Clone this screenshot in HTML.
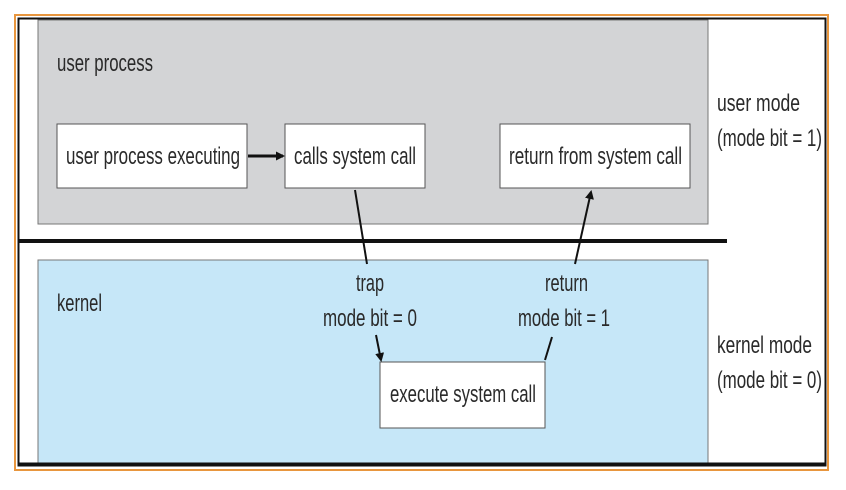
<!DOCTYPE html>
<html><head><meta charset="utf-8"><style>
html,body{margin:0;padding:0;background:#fff;width:846px;height:490px;overflow:hidden}
svg text{font-family:"Liberation Sans",sans-serif;font-size:24px;fill:#2a2a2a}
</style></head><body>
<svg width="846" height="490" viewBox="0 0 846 490" xmlns="http://www.w3.org/2000/svg">
<defs><marker id="a" markerWidth="9" markerHeight="9" refX="7" refY="4.5" orient="auto" markerUnits="userSpaceOnUse"><path d="M0,0 L9,4.5 L0,9 z" fill="#111"/></marker></defs>
<rect x="15" y="15" width="813" height="455" fill="none" stroke="#e8963e" stroke-width="2"/>
<rect x="18.5" y="18.5" width="807" height="447" fill="#fff" stroke="#111" stroke-width="2"/>
<rect x="38" y="20" width="670" height="204" fill="#d3d4d6" stroke="#777" stroke-width="1"/>
<rect x="38" y="260" width="670" height="204" fill="#c6e7f8" stroke="#777" stroke-width="1"/>
<line x1="18" y1="464" x2="826" y2="464" stroke="#111" stroke-width="3"/>
<line x1="18" y1="241" x2="727" y2="241" stroke="#111" stroke-width="4"/>
<rect x="57" y="124" width="190" height="64" fill="#fff" stroke="#555"/>
<rect x="285" y="124" width="140" height="64" fill="#fff" stroke="#555"/>
<rect x="500" y="124" width="190" height="64" fill="#fff" stroke="#555"/>
<rect x="380" y="362" width="165" height="66" fill="#fff" stroke="#555"/>
<line x1="248" y1="156" x2="283" y2="156" stroke="#111" stroke-width="3" marker-end="url(#a)"/>
<line x1="355" y1="190" x2="367" y2="264" stroke="#111" stroke-width="2"/>
<line x1="376" y1="335" x2="381" y2="360" stroke="#111" stroke-width="2" marker-end="url(#a)"/>
<line x1="545" y1="360" x2="552" y2="337" stroke="#111" stroke-width="2"/>
<line x1="575" y1="264" x2="591" y2="192" stroke="#111" stroke-width="2" marker-end="url(#a)"/>
<text x="57" y="71" textLength="96" lengthAdjust="spacingAndGlyphs">user process</text>
<text x="57" y="311" textLength="45" lengthAdjust="spacingAndGlyphs">kernel</text>
<text x="66" y="164" textLength="174" lengthAdjust="spacingAndGlyphs">user process executing</text>
<text x="294" y="164" textLength="122" lengthAdjust="spacingAndGlyphs">calls system call</text>
<text x="509" y="164" textLength="173" lengthAdjust="spacingAndGlyphs">return from system call</text>
<text x="390" y="402" textLength="146" lengthAdjust="spacingAndGlyphs">execute system call</text>
<text x="356" y="291" textLength="28" lengthAdjust="spacingAndGlyphs">trap</text>
<text x="323" y="326" textLength="94" lengthAdjust="spacingAndGlyphs">mode bit = 0</text>
<text x="545" y="291" textLength="43" lengthAdjust="spacingAndGlyphs">return</text>
<text x="518" y="326" textLength="92" lengthAdjust="spacingAndGlyphs">mode bit = 1</text>
<text x="717" y="111" textLength="83" lengthAdjust="spacingAndGlyphs">user mode</text>
<text x="717" y="146" textLength="105" lengthAdjust="spacingAndGlyphs">(mode bit = 1)</text>
<text x="717" y="353" textLength="95" lengthAdjust="spacingAndGlyphs">kernel mode</text>
<text x="717" y="388" textLength="105" lengthAdjust="spacingAndGlyphs">(mode bit = 0)</text>
</svg>
</body></html>
